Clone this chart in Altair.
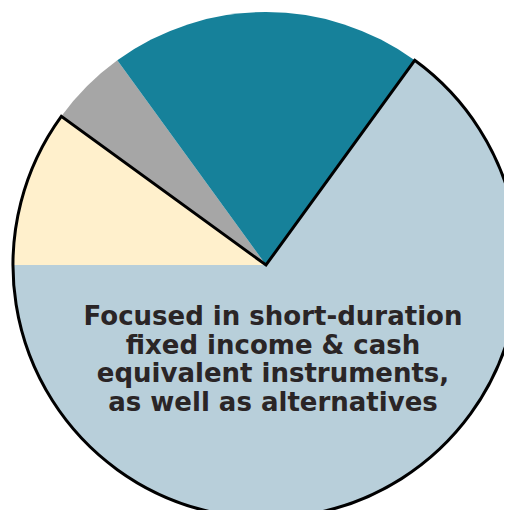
import altair as alt
import pandas as pd
import numpy as np

# Slices in clockwise order, starting at the teal/blue boundary
categories = ["Short-duration & alternatives", "Segment B", "Segment C", "Segment D"]
values = [65, 10, 5, 20]
colors = ["#B8CFDA", "#FFF0CC", "#A6A6A6", "#16819A"]
outlined = [True, True, False, False]  # slices enclosed by black outline
label_lines = [
    "Focused in short-duration",
    "fixed income & cash",
    "equivalent instruments,",
    "as well as alternatives",
]

start_deg = 36.0
start_rad = np.deg2rad(start_deg)

ends = np.cumsum(values)
starts = ends - np.array(values)
df = pd.DataFrame({
    "category": categories,
    "value": values,
    "start": starts,
    "end": ends,
})

out_start = float(min(s for s, o in zip(starts, outlined) if o))
out_end = float(max(e for e, o in zip(ends, outlined) if o))
df_out = pd.DataFrame({"start": [out_start], "end": [out_end]})

theta_scale = alt.Scale(domain=[0, sum(values)], range=[start_rad, start_rad + 2 * np.pi])

CX, CY, R = 258, 257, 253

pie = alt.Chart(df).mark_arc(outerRadius=R, innerRadius=0).encode(
    theta=alt.Theta("start:Q", scale=theta_scale),
    theta2="end:Q",
    color=alt.Color("category:N", scale=alt.Scale(domain=categories, range=colors), legend=None),
    x=alt.value(CX),
    y=alt.value(CY),
)

outline = alt.Chart(df_out).mark_arc(
    outerRadius=R, innerRadius=0, fillOpacity=0, fill="white",
    stroke="black", strokeWidth=3, strokeJoin="miter"
).encode(
    theta=alt.Theta("start:Q", scale=theta_scale),
    theta2="end:Q",
    x=alt.value(CX),
    y=alt.value(CY),
)

text = alt.Chart(pd.DataFrame({"t": [label_lines]})).mark_text(
    font="DejaVu Sans", fontWeight="bold", fontSize=26, color="#2A2526",
    align="center", baseline="alphabetic", lineHeight=28.5,
).encode(
    text="t",
    x=alt.value(265),
    y=alt.value(317),
)

chart = alt.layer(pie, outline, text).properties(
    width=496, height=502,
    autosize=alt.AutoSizeParams(type="none"),
    padding=0,
).configure_view(stroke=None)

chart.save("out.html", embed_options={"renderer": "svg", "actions": False})
